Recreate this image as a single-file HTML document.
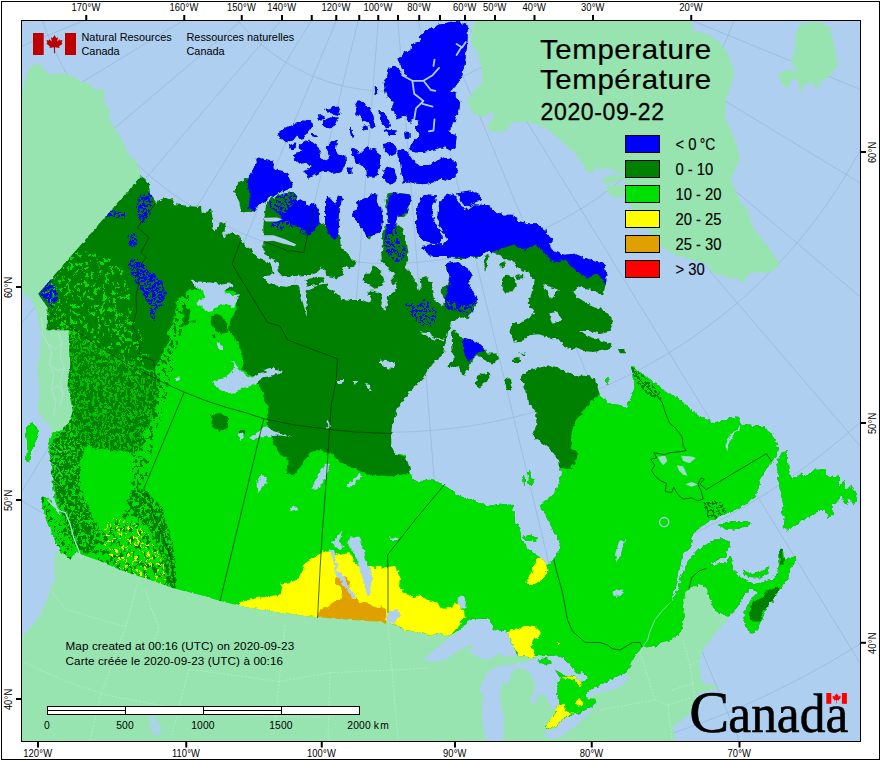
<!DOCTYPE html>
<html><head><meta charset="utf-8"><title>Temperature</title>
<style>
html,body{margin:0;padding:0;background:#fff;}
body{width:880px;height:760px;overflow:hidden;font-family:"Liberation Sans",sans-serif;}
svg{display:block;position:absolute;left:0;top:0;}
.tk{font-family:"Liberation Sans",sans-serif;font-size:10px;fill:#000;}
.lg{font-family:"Liberation Sans",sans-serif;font-size:17px;fill:#000;stroke:#000;stroke-width:0.15px}
.ti{font-family:"Liberation Sans",sans-serif;font-size:27px;fill:#000;letter-spacing:0.55px;stroke:#000;stroke-width:0.18px}
.dt{font-family:"Liberation Sans",sans-serif;font-size:23px;fill:#000;letter-spacing:0.65px;stroke:#000;stroke-width:0.3px}
.nr{font-family:"Liberation Sans",sans-serif;font-size:10.9px;fill:#000;}
.mc{font-family:"Liberation Sans",sans-serif;font-size:11.7px;fill:#000;letter-spacing:0.1px}
.sb{font-family:"Liberation Sans",sans-serif;font-size:10.3px;fill:#000;letter-spacing:0.15px}
.wm{font-family:"Liberation Serif",serif;font-size:61px;fill:#000;stroke:#000;stroke-width:0.6px}
</style></head><body>
<svg width="880" height="760" viewBox="0 0 880 760">
<rect x="0" y="0" width="880" height="760" fill="#fff"/>
<rect x="1.5" y="1.5" width="878" height="758" fill="none" stroke="#000" stroke-width="1"/>
<defs><clipPath id="fr"><rect x="22" y="21" width="838" height="720"/></clipPath>
<filter id="rough2" filterUnits="userSpaceOnUse" x="0" y="0" width="880" height="760"><feTurbulence type="fractalNoise" baseFrequency="0.3" numOctaves="2" seed="8" result="t"/><feDisplacementMap in="SourceGraphic" in2="t" scale="3.5" xChannelSelector="R" yChannelSelector="G"/></filter>
<filter id="rough" filterUnits="userSpaceOnUse" x="0" y="0" width="880" height="760"><feTurbulence type="fractalNoise" baseFrequency="0.22" numOctaves="2" seed="4" result="t"/><feDisplacementMap in="SourceGraphic" in2="t" scale="5" xChannelSelector="R" yChannelSelector="G"/></filter>
<filter id="nzG1" filterUnits="userSpaceOnUse" x="0" y="0" width="880" height="760" color-interpolation-filters="sRGB"><feTurbulence type="fractalNoise" baseFrequency="0.45 0.3" numOctaves="2" seed="3"/><feColorMatrix type="matrix" values="0 0 0 0 0 0 0 0 0 0.878 0 0 0 0 0 40 0 0 0 -21.4"/></filter>
<filter id="nzG2" filterUnits="userSpaceOnUse" x="0" y="0" width="880" height="760" color-interpolation-filters="sRGB"><feTurbulence type="fractalNoise" baseFrequency="0.34 0.24" numOctaves="2" seed="11"/><feColorMatrix type="matrix" values="0 0 0 0 0 0 0 0 0 0.878 0 0 0 0 0 40 0 0 0 -24.2"/></filter>
<filter id="nzD1" filterUnits="userSpaceOnUse" x="0" y="0" width="880" height="760" color-interpolation-filters="sRGB"><feTurbulence type="fractalNoise" baseFrequency="0.3 0.22" numOctaves="2" seed="5"/><feColorMatrix type="matrix" values="0 0 0 0 0 0 0 0 0 0.502 0 0 0 0 0 40 0 0 0 -22.6"/></filter>
<filter id="nzB1" filterUnits="userSpaceOnUse" x="0" y="0" width="880" height="760" color-interpolation-filters="sRGB"><feTurbulence type="fractalNoise" baseFrequency="0.4 0.4" numOctaves="2" seed="9"/><feColorMatrix type="matrix" values="0 0 0 0 0 0 0 0 0 0 0 0 0 0 1 40 0 0 0 -18.8"/></filter>
<filter id="nzY1" filterUnits="userSpaceOnUse" x="0" y="0" width="880" height="760" color-interpolation-filters="sRGB"><feTurbulence type="fractalNoise" baseFrequency="0.4 0.3" numOctaves="2" seed="21"/><feColorMatrix type="matrix" values="0 0 0 0 1 0 0 0 0 1 0 0 0 0 0 40 0 0 0 -24.6"/></filter>
<filter id="nzD4" filterUnits="userSpaceOnUse" x="0" y="0" width="880" height="760" color-interpolation-filters="sRGB"><feTurbulence type="fractalNoise" baseFrequency="0.45 0.3" numOctaves="2" seed="41"/><feColorMatrix type="matrix" values="0 0 0 0 0 0 0 0 0 0.502 0 0 0 0 0 40 0 0 0 -23"/></filter>
<filter id="nzD2" filterUnits="userSpaceOnUse" x="0" y="0" width="880" height="760" color-interpolation-filters="sRGB"><feTurbulence type="fractalNoise" baseFrequency="0.4 0.4" numOctaves="2" seed="17"/><feColorMatrix type="matrix" values="0 0 0 0 0 0 0 0 0 0.502 0 0 0 0 0 40 0 0 0 -18.2"/></filter>
<filter id="nzD3" filterUnits="userSpaceOnUse" x="0" y="0" width="880" height="760" color-interpolation-filters="sRGB"><feTurbulence type="fractalNoise" baseFrequency="0.4 0.4" numOctaves="2" seed="29"/><feColorMatrix type="matrix" values="0 0 0 0 0 0 0 0 0 0.502 0 0 0 0 0 40 0 0 0 -20.4"/></filter>
</defs>
<rect x="22" y="21" width="838" height="720" fill="#AECFF0"/>
<g clip-path="url(#fr)" shape-rendering="auto">
<path d="M375.4,-101.0 L-974.7,216.8 M376.1,-99.1 L-907.4,426.7 M377.0,-97.2 L-808.1,623.4 M378.2,-95.6 L-679.1,802.2 M379.6,-94.1 L-523.6,958.4 M381.3,-92.9 L-345.6,1088.4 M383.1,-92.0 L-149.3,1188.7 M385.1,-91.3 L60.2,1257.1 M387.1,-91.0 L277.9,1291.7 M389.1,-91.0 L498.3,1291.7 M391.1,-91.3 L716.0,1257.1 M393.1,-92.0 L925.5,1188.7 M394.9,-92.9 L1121.8,1088.4 M396.6,-94.1 L1299.8,958.4 M398.0,-95.6 L1455.3,802.2 M399.2,-97.2 L1584.3,623.4 M400.1,-99.1 L1683.6,426.7 M400.8,-101.0 L1750.9,216.8 M401.1,-103.0 L1784.3,-1.1 M-684.3,-109.6 L-684.3,-92.7 L-684.0,-75.8 L-683.4,-58.9 L-682.6,-42.0 L-681.4,-25.2 L-680.1,-8.3 L-678.4,8.5 L-676.5,25.3 L-674.4,42.0 L-671.9,58.8 L-669.2,75.5 L-666.3,92.1 L-663.0,108.7 L-659.6,125.2 L-655.8,141.7 L-651.8,158.1 L-647.6,174.5 L-643.0,190.8 L-638.3,207.0 L-633.2,223.1 L-628.0,239.2 L-622.4,255.2 L-616.6,271.0 L-610.6,286.8 L-604.3,302.5 L-597.8,318.1 L-591.0,333.6 L-584.0,349.0 L-576.7,364.2 L-569.2,379.4 L-561.5,394.4 L-553.5,409.3 L-545.3,424.1 L-536.9,438.7 L-528.2,453.2 L-519.3,467.6 L-510.2,481.8 L-500.9,495.9 L-491.3,509.9 L-481.5,523.6 L-471.5,537.3 L-461.3,550.7 L-450.9,564.0 L-440.2,577.2 L-429.4,590.1 L-418.4,602.9 L-407.1,615.6 L-395.7,628.0 L-384.0,640.3 L-372.2,652.3 L-360.2,664.2 L-348.0,675.9 L-335.6,687.4 L-323.1,698.7 L-310.3,709.9 L-297.4,720.8 L-284.3,731.5 L-271.1,742.0 L-257.7,752.2 L-244.1,762.3 L-230.4,772.2 L-216.5,781.8 L-202.4,791.2 L-188.3,800.4 L-173.9,809.4 L-159.5,818.1 L-144.9,826.6 L-130.1,834.9 L-115.3,843.0 L-100.3,850.8 L-85.2,858.4 L-69.9,865.7 L-54.6,872.8 L-39.2,879.7 L-23.6,886.3 L-7.9,892.6 L7.8,898.8 L23.7,904.6 L39.6,910.2 L55.6,915.6 L71.7,920.7 L87.9,925.6 L104.2,930.2 L120.5,934.5 L136.9,938.6 L153.4,942.4 L169.9,946.0 L186.5,949.3 L203.1,952.4 L219.8,955.2 L236.5,957.7 L253.2,959.9 L270.0,961.9 L286.8,963.7 L303.7,965.1 L320.5,966.3 L337.4,967.2 L354.3,967.9 L371.2,968.3 L388.1,968.4 L405.0,968.3 L421.9,967.9 L438.8,967.2 L455.7,966.3 L472.5,965.1 L489.4,963.7 L506.2,961.9 L523.0,959.9 L539.7,957.7 L556.4,955.2 L573.1,952.4 L589.7,949.3 L606.3,946.0 L622.8,942.4 L639.3,938.6 L655.7,934.5 L672.0,930.2 L688.3,925.6 L704.5,920.7 L720.6,915.6 L736.6,910.2 L752.5,904.6 L768.4,898.8 L784.1,892.6 L799.8,886.3 L815.4,879.7 L830.8,872.8 L846.1,865.7 L861.4,858.4 L876.5,850.8 L891.5,843.0 L906.3,834.9 L921.1,826.6 L935.7,818.1 L950.1,809.4 L964.5,800.4 L978.6,791.2 L992.7,781.8 L1006.6,772.2 L1020.3,762.3 L1033.9,752.2 L1047.3,742.0 L1060.5,731.5 L1073.6,720.8 L1086.5,709.9 L1099.3,698.7 L1111.8,687.4 L1124.2,675.9 L1136.4,664.2 L1148.4,652.3 L1160.2,640.3 L1171.9,628.0 L1183.3,615.6 L1194.6,602.9 L1205.6,590.1 L1216.4,577.2 L1227.1,564.0 L1237.5,550.7 L1247.7,537.3 L1257.7,523.6 L1267.5,509.9 L1277.1,495.9 L1286.4,481.8 L1295.5,467.6 L1304.4,453.2 L1313.1,438.7 L1321.5,424.1 L1329.7,409.3 L1337.7,394.4 L1345.4,379.4 L1352.9,364.2 L1360.2,349.0 L1367.2,333.6 L1374.0,318.1 L1380.5,302.5 L1386.8,286.8 L1392.8,271.0 L1398.6,255.2 L1404.2,239.2 L1409.4,223.1 L1414.5,207.0 L1419.2,190.8 L1423.8,174.5 L1428.0,158.1 L1432.0,141.7 L1435.8,125.2 L1439.2,108.7 L1442.5,92.1 L1445.4,75.5 L1448.1,58.8 L1450.6,42.0 L1452.7,25.3 L1454.6,8.5 L1456.3,-8.3 L1457.6,-25.2 L1458.8,-42.0 L1459.6,-58.9 L1460.2,-75.8 L1460.5,-92.7 L1460.5,-109.6 M-496.2,-108.6 L-496.2,-94.7 L-495.9,-80.8 L-495.4,-66.8 L-494.7,-52.9 L-493.8,-39.0 L-492.7,-25.1 L-491.3,-11.2 L-489.8,2.6 L-488.0,16.4 L-486.0,30.2 L-483.7,44.0 L-481.3,57.7 L-478.6,71.4 L-475.8,85.0 L-472.7,98.6 L-469.4,112.2 L-465.9,125.6 L-462.2,139.1 L-458.2,152.4 L-454.1,165.7 L-449.7,179.0 L-445.2,192.2 L-440.4,205.2 L-435.4,218.3 L-430.2,231.2 L-424.8,244.1 L-419.3,256.8 L-413.5,269.5 L-407.5,282.1 L-401.3,294.6 L-394.9,307.0 L-388.3,319.3 L-381.6,331.4 L-374.6,343.5 L-367.5,355.5 L-360.1,367.3 L-352.6,379.1 L-344.9,390.7 L-337.0,402.2 L-329.0,413.5 L-320.7,424.8 L-312.3,435.9 L-303.7,446.8 L-294.9,457.7 L-286.0,468.4 L-276.9,478.9 L-267.6,489.3 L-258.2,499.6 L-248.6,509.7 L-238.8,519.7 L-228.9,529.5 L-218.9,539.1 L-208.7,548.6 L-198.3,557.9 L-187.8,567.1 L-177.2,576.1 L-166.4,584.9 L-155.4,593.6 L-144.4,602.0 L-133.2,610.3 L-121.9,618.5 L-110.4,626.4 L-98.8,634.2 L-87.1,641.8 L-75.3,649.2 L-63.4,656.4 L-51.4,663.4 L-39.2,670.2 L-27.0,676.9 L-14.6,683.3 L-2.1,689.5 L10.4,695.6 L23.1,701.5 L35.8,707.1 L48.6,712.6 L61.5,717.8 L74.5,722.8 L87.6,727.7 L100.7,732.3 L114.0,736.7 L127.2,741.0 L140.6,745.0 L154.0,748.8 L167.5,752.3 L181.0,755.7 L194.6,758.9 L208.2,761.8 L221.9,764.5 L235.6,767.1 L249.3,769.4 L263.1,771.4 L276.9,773.3 L290.7,774.9 L304.6,776.4 L318.5,777.6 L332.4,778.6 L346.3,779.3 L360.2,779.9 L374.2,780.2 L388.1,780.3 L402.0,780.2 L416.0,779.9 L429.9,779.3 L443.8,778.6 L457.7,777.6 L471.6,776.4 L485.5,774.9 L499.3,773.3 L513.1,771.4 L526.9,769.4 L540.6,767.1 L554.3,764.5 L568.0,761.8 L581.6,758.9 L595.2,755.7 L608.7,752.3 L622.2,748.8 L635.6,745.0 L649.0,741.0 L662.2,736.7 L675.5,732.3 L688.6,727.7 L701.7,722.8 L714.7,717.8 L727.6,712.6 L740.4,707.1 L753.1,701.5 L765.8,695.6 L778.3,689.5 L790.8,683.3 L803.2,676.9 L815.4,670.2 L827.6,663.4 L839.6,656.4 L851.5,649.2 L863.3,641.8 L875.0,634.2 L886.6,626.4 L898.1,618.5 L909.4,610.3 L920.6,602.0 L931.6,593.6 L942.6,584.9 L953.4,576.1 L964.0,567.1 L974.5,557.9 L984.9,548.6 L995.1,539.1 L1005.1,529.5 L1015.0,519.7 L1024.8,509.7 L1034.4,499.6 L1043.8,489.3 L1053.1,478.9 L1062.2,468.4 L1071.1,457.7 L1079.9,446.8 L1088.5,435.9 L1096.9,424.8 L1105.2,413.5 L1113.2,402.2 L1121.1,390.7 L1128.8,379.1 L1136.3,367.3 L1143.7,355.5 L1150.8,343.5 L1157.8,331.4 L1164.5,319.3 L1171.1,307.0 L1177.5,294.6 L1183.7,282.1 L1189.7,269.5 L1195.5,256.8 L1201.0,244.1 L1206.4,231.2 L1211.6,218.3 L1216.6,205.2 L1221.4,192.2 L1225.9,179.0 L1230.3,165.7 L1234.4,152.4 L1238.4,139.1 L1242.1,125.6 L1245.6,112.2 L1248.9,98.6 L1252.0,85.0 L1254.8,71.4 L1257.5,57.7 L1259.9,44.0 L1262.2,30.2 L1264.2,16.4 L1266.0,2.6 L1267.5,-11.2 L1268.9,-25.1 L1270.0,-39.0 L1270.9,-52.9 L1271.6,-66.8 L1272.1,-80.8 L1272.4,-94.7 L1272.4,-108.6 M-318.9,-107.7 L-318.9,-96.6 L-318.7,-85.4 L-318.3,-74.3 L-317.7,-63.2 L-317.0,-52.0 L-316.1,-40.9 L-315.0,-29.8 L-313.8,-18.8 L-312.3,-7.7 L-310.7,3.3 L-309.0,14.3 L-307.0,25.3 L-304.9,36.2 L-302.6,47.1 L-300.1,58.0 L-297.5,68.8 L-294.7,79.6 L-291.7,90.3 L-288.6,101.0 L-285.2,111.7 L-281.8,122.3 L-278.1,132.8 L-274.3,143.2 L-270.3,153.7 L-266.2,164.0 L-261.9,174.3 L-257.4,184.5 L-252.8,194.6 L-248.0,204.7 L-243.0,214.7 L-237.9,224.6 L-232.7,234.4 L-227.3,244.1 L-221.7,253.8 L-216.0,263.4 L-210.1,272.8 L-204.1,282.2 L-198.0,291.5 L-191.7,300.7 L-185.2,309.8 L-178.6,318.8 L-171.9,327.6 L-165.0,336.4 L-158.0,345.1 L-150.9,353.6 L-143.6,362.1 L-136.2,370.4 L-128.6,378.6 L-120.9,386.7 L-113.2,394.6 L-105.2,402.5 L-97.2,410.2 L-89.0,417.8 L-80.7,425.2 L-72.3,432.5 L-63.8,439.7 L-55.2,446.8 L-46.5,453.7 L-37.6,460.5 L-28.7,467.1 L-19.6,473.6 L-10.5,480.0 L-1.2,486.2 L8.1,492.3 L17.6,498.2 L27.1,503.9 L36.7,509.5 L46.4,515.0 L56.2,520.3 L66.1,525.5 L76.1,530.5 L86.1,535.3 L96.2,540.0 L106.4,544.5 L116.7,548.9 L127.0,553.1 L137.4,557.1 L147.8,561.0 L158.3,564.7 L168.9,568.2 L179.5,571.6 L190.2,574.8 L200.9,577.8 L211.7,580.7 L222.5,583.4 L233.4,585.9 L244.3,588.2 L255.2,590.4 L266.1,592.4 L277.1,594.3 L288.1,595.9 L299.2,597.4 L310.3,598.7 L321.3,599.9 L332.4,600.8 L343.6,601.6 L354.7,602.2 L365.8,602.7 L377.0,602.9 L388.1,603.0 L399.2,602.9 L410.4,602.7 L421.5,602.2 L432.6,601.6 L443.8,600.8 L454.9,599.9 L465.9,598.7 L477.0,597.4 L488.1,595.9 L499.1,594.3 L510.1,592.4 L521.0,590.4 L531.9,588.2 L542.8,585.9 L553.7,583.4 L564.5,580.7 L575.3,577.8 L586.0,574.8 L596.7,571.6 L607.3,568.2 L617.9,564.7 L628.4,561.0 L638.8,557.1 L649.2,553.1 L659.5,548.9 L669.8,544.5 L680.0,540.0 L690.1,535.3 L700.1,530.5 L710.1,525.5 L720.0,520.3 L729.8,515.0 L739.5,509.5 L749.1,503.9 L758.6,498.2 L768.1,492.3 L777.4,486.2 L786.7,480.0 L795.8,473.6 L804.9,467.1 L813.8,460.5 L822.7,453.7 L831.4,446.8 L840.0,439.7 L848.5,432.5 L856.9,425.2 L865.2,417.8 L873.4,410.2 L881.4,402.5 L889.4,394.6 L897.1,386.7 L904.8,378.6 L912.4,370.4 L919.8,362.1 L927.1,353.6 L934.2,345.1 L941.2,336.4 L948.1,327.6 L954.8,318.8 L961.4,309.8 L967.9,300.7 L974.2,291.5 L980.3,282.2 L986.3,272.8 L992.2,263.4 L997.9,253.8 L1003.5,244.1 L1008.9,234.4 L1014.1,224.6 L1019.2,214.7 L1024.2,204.7 L1029.0,194.6 L1033.6,184.5 L1038.1,174.3 L1042.4,164.0 L1046.5,153.7 L1050.5,143.2 L1054.3,132.8 L1058.0,122.3 L1061.4,111.7 L1064.8,101.0 L1067.9,90.3 L1070.9,79.6 L1073.7,68.8 L1076.3,58.0 L1078.8,47.1 L1081.1,36.2 L1083.2,25.3 L1085.2,14.3 L1086.9,3.3 L1088.5,-7.7 L1090.0,-18.8 L1091.2,-29.8 L1092.3,-40.9 L1093.2,-52.0 L1093.9,-63.2 L1094.5,-74.3 L1094.9,-85.4 L1095.1,-96.6 L1095.1,-107.7 M-148.1,-106.8 L-148.1,-98.4 L-147.9,-89.9 L-147.6,-81.5 L-147.2,-73.0 L-146.6,-64.6 L-146.0,-56.2 L-145.1,-47.8 L-144.2,-39.4 L-143.1,-31.0 L-141.9,-22.6 L-140.5,-14.3 L-139.1,-6.0 L-137.4,2.3 L-135.7,10.6 L-133.8,18.9 L-131.8,27.1 L-129.7,35.2 L-127.4,43.4 L-125.1,51.5 L-122.5,59.6 L-119.9,67.6 L-117.1,75.6 L-114.2,83.5 L-111.2,91.4 L-108.1,99.2 L-104.8,107.0 L-101.4,114.8 L-97.9,122.5 L-94.3,130.1 L-90.5,137.7 L-86.7,145.2 L-82.7,152.6 L-78.6,160.0 L-74.4,167.4 L-70.0,174.6 L-65.6,181.8 L-61.0,188.9 L-56.4,195.9 L-51.6,202.9 L-46.7,209.8 L-41.7,216.6 L-36.6,223.4 L-31.4,230.0 L-26.0,236.6 L-20.6,243.1 L-15.1,249.5 L-9.5,255.8 L-3.8,262.0 L2.0,268.1 L8.0,274.2 L14.0,280.1 L20.1,285.9 L26.3,291.7 L32.5,297.4 L38.9,302.9 L45.4,308.4 L51.9,313.7 L58.5,319.0 L65.2,324.1 L72.0,329.1 L78.9,334.1 L85.8,338.9 L92.8,343.6 L99.9,348.2 L107.1,352.7 L114.3,357.0 L121.6,361.3 L129.0,365.4 L136.4,369.5 L143.9,373.4 L151.5,377.2 L159.1,380.8 L166.8,384.4 L174.5,387.8 L182.3,391.1 L190.1,394.3 L198.0,397.4 L205.9,400.3 L213.9,403.1 L221.9,405.8 L229.9,408.3 L238.0,410.8 L246.2,413.1 L254.3,415.2 L262.5,417.3 L270.7,419.2 L279.0,421.0 L287.3,422.6 L295.6,424.2 L303.9,425.6 L312.3,426.8 L320.7,427.9 L329.1,428.9 L337.5,429.8 L345.9,430.5 L354.3,431.1 L362.8,431.6 L371.2,431.9 L379.6,432.1 L388.1,432.2 L396.6,432.1 L405.0,431.9 L413.4,431.6 L421.9,431.1 L430.3,430.5 L438.7,429.8 L447.1,428.9 L455.5,427.9 L463.9,426.8 L472.3,425.6 L480.6,424.2 L488.9,422.6 L497.2,421.0 L505.5,419.2 L513.7,417.3 L521.9,415.2 L530.0,413.1 L538.2,410.8 L546.3,408.3 L554.3,405.8 L562.3,403.1 L570.3,400.3 L578.2,397.4 L586.1,394.3 L593.9,391.1 L601.7,387.8 L609.4,384.4 L617.1,380.8 L624.7,377.2 L632.3,373.4 L639.8,369.5 L647.2,365.4 L654.6,361.3 L661.9,357.0 L669.1,352.7 L676.3,348.2 L683.4,343.6 L690.4,338.9 L697.3,334.1 L704.2,329.1 L711.0,324.1 L717.7,319.0 L724.3,313.7 L730.8,308.4 L737.3,302.9 L743.7,297.4 L749.9,291.7 L756.1,285.9 L762.2,280.1 L768.2,274.2 L774.2,268.1 L780.0,262.0 L785.7,255.8 L791.3,249.5 L796.8,243.1 L802.2,236.6 L807.6,230.0 L812.8,223.4 L817.9,216.6 L822.9,209.8 L827.8,202.9 L832.6,195.9 L837.2,188.9 L841.8,181.8 L846.2,174.6 L850.6,167.4 L854.8,160.0 L858.9,152.6 L862.9,145.2 L866.7,137.7 L870.5,130.1 L874.1,122.5 L877.6,114.8 L881.0,107.0 L884.3,99.2 L887.4,91.4 L890.4,83.5 L893.3,75.6 L896.1,67.6 L898.7,59.6 L901.3,51.5 L903.6,43.4 L905.9,35.2 L908.0,27.1 L910.0,18.9 L911.9,10.6 L913.6,2.3 L915.3,-6.0 L916.7,-14.3 L918.1,-22.6 L919.3,-31.0 L920.4,-39.4 L921.3,-47.8 L922.2,-56.2 L922.8,-64.6 L923.4,-73.0 L923.8,-81.5 L924.1,-89.9 L924.3,-98.4 L924.3,-106.8 M20.6,-105.9 L20.7,-100.1 L20.8,-94.3 L21.0,-88.6 L21.2,-82.8 L21.6,-77.0 L22.1,-71.2 L22.7,-65.5 L23.3,-59.7 L24.1,-54.0 L24.9,-48.2 L25.8,-42.5 L26.8,-36.8 L27.9,-31.1 L29.1,-25.5 L30.4,-19.8 L31.8,-14.2 L33.2,-8.6 L34.8,-3.0 L36.4,2.6 L38.1,8.1 L40.0,13.6 L41.8,19.1 L43.8,24.5 L45.9,29.9 L48.1,35.3 L50.3,40.6 L52.6,45.9 L55.0,51.2 L57.5,56.4 L60.1,61.6 L62.7,66.8 L65.5,71.9 L68.3,76.9 L71.2,82.0 L74.1,86.9 L77.2,91.9 L80.3,96.7 L83.5,101.6 L86.8,106.3 L90.1,111.1 L93.6,115.7 L97.1,120.3 L100.6,124.9 L104.3,129.4 L108.0,133.8 L111.8,138.2 L115.6,142.6 L119.5,146.8 L123.5,151.0 L127.6,155.2 L131.7,159.2 L135.9,163.2 L140.1,167.2 L144.4,171.1 L148.8,174.9 L153.2,178.6 L157.7,182.3 L162.2,185.9 L166.8,189.4 L171.5,192.8 L176.2,196.2 L180.9,199.5 L185.8,202.7 L190.6,205.9 L195.5,209.0 L200.5,212.0 L205.5,214.9 L210.5,217.7 L215.6,220.5 L220.8,223.2 L225.9,225.8 L231.2,228.3 L236.4,230.7 L241.7,233.0 L247.0,235.3 L252.4,237.5 L257.8,239.6 L263.2,241.6 L268.7,243.5 L274.2,245.4 L279.7,247.1 L285.2,248.8 L290.8,250.4 L296.4,251.8 L302.0,253.2 L307.7,254.6 L313.3,255.8 L319.0,256.9 L324.7,258.0 L330.4,258.9 L336.2,259.8 L341.9,260.6 L347.6,261.2 L353.4,261.8 L359.2,262.3 L364.9,262.7 L370.7,263.1 L376.5,263.3 L382.3,263.4 L388.1,263.5 L393.9,263.4 L399.7,263.3 L405.5,263.1 L411.3,262.7 L417.0,262.3 L422.8,261.8 L428.6,261.2 L434.3,260.6 L440.0,259.8 L445.8,258.9 L451.5,258.0 L457.2,256.9 L462.9,255.8 L468.5,254.6 L474.2,253.2 L479.8,251.8 L485.4,250.4 L491.0,248.8 L496.5,247.1 L502.0,245.4 L507.5,243.5 L513.0,241.6 L518.4,239.6 L523.8,237.5 L529.2,235.3 L534.5,233.0 L539.8,230.7 L545.0,228.3 L550.3,225.8 L555.4,223.2 L560.6,220.5 L565.7,217.7 L570.7,214.9 L575.7,212.0 L580.7,209.0 L585.6,205.9 L590.4,202.7 L595.3,199.5 L600.0,196.2 L604.7,192.8 L609.4,189.4 L614.0,185.9 L618.5,182.3 L623.0,178.6 L627.4,174.9 L631.8,171.1 L636.1,167.2 L640.3,163.2 L644.5,159.2 L648.6,155.2 L652.7,151.0 L656.7,146.8 L660.6,142.6 L664.4,138.2 L668.2,133.8 L671.9,129.4 L675.6,124.9 L679.1,120.3 L682.6,115.7 L686.1,111.1 L689.4,106.3 L692.7,101.6 L695.9,96.7 L699.0,91.9 L702.1,86.9 L705.0,82.0 L707.9,76.9 L710.7,71.9 L713.5,66.8 L716.1,61.6 L718.7,56.4 L721.2,51.2 L723.6,45.9 L725.9,40.6 L728.1,35.3 L730.3,29.9 L732.4,24.5 L734.4,19.1 L736.2,13.6 L738.1,8.1 L739.8,2.6 L741.4,-3.0 L743.0,-8.6 L744.4,-14.2 L745.8,-19.8 L747.1,-25.5 L748.3,-31.1 L749.4,-36.8 L750.4,-42.5 L751.3,-48.2 L752.1,-54.0 L752.9,-59.7 L753.5,-65.5 L754.1,-71.2 L754.6,-77.0 L755.0,-82.8 L755.2,-88.6 L755.4,-94.3 L755.5,-100.1 L755.6,-105.9 M192.9,-105.0 L193.0,-101.9 L193.0,-98.9 L193.1,-95.8 L193.3,-92.7 L193.5,-89.7 L193.7,-86.6 L194.0,-83.5 L194.4,-80.5 L194.8,-77.4 L195.2,-74.4 L195.7,-71.3 L196.2,-68.3 L196.8,-65.3 L197.5,-62.3 L198.1,-59.3 L198.9,-56.3 L199.6,-53.3 L200.5,-50.4 L201.3,-47.4 L202.2,-44.5 L203.2,-41.6 L204.2,-38.6 L205.3,-35.8 L206.4,-32.9 L207.5,-30.0 L208.7,-27.2 L209.9,-24.4 L211.2,-21.6 L212.5,-18.8 L213.9,-16.0 L215.3,-13.3 L216.8,-10.6 L218.2,-7.9 L219.8,-5.2 L221.4,-2.6 L223.0,0.0 L224.6,2.6 L226.3,5.2 L228.1,7.7 L229.9,10.2 L231.7,12.7 L233.5,15.1 L235.4,17.6 L237.4,20.0 L239.3,22.3 L241.3,24.6 L243.4,26.9 L245.5,29.2 L247.6,31.4 L249.7,33.6 L251.9,35.8 L254.2,37.9 L256.4,40.0 L258.7,42.1 L261.0,44.1 L263.4,46.1 L265.7,48.0 L268.1,49.9 L270.6,51.8 L273.1,53.6 L275.6,55.4 L278.1,57.2 L280.6,58.9 L283.2,60.6 L285.8,62.2 L288.5,63.8 L291.1,65.3 L293.8,66.9 L296.5,68.3 L299.2,69.7 L302.0,71.1 L304.7,72.5 L307.5,73.8 L310.4,75.0 L313.2,76.2 L316.0,77.4 L318.9,78.5 L321.8,79.5 L324.7,80.6 L327.6,81.5 L330.5,82.5 L333.5,83.4 L336.4,84.2 L339.4,85.0 L342.4,85.7 L345.4,86.4 L348.4,87.1 L351.4,87.7 L354.4,88.2 L357.5,88.7 L360.5,89.2 L363.6,89.6 L366.6,90.0 L369.7,90.3 L372.7,90.5 L375.8,90.8 L378.9,90.9 L381.9,91.1 L385.0,91.1 L388.1,91.2 L391.2,91.1 L394.3,91.1 L397.3,90.9 L400.4,90.8 L403.5,90.5 L406.5,90.3 L409.6,90.0 L412.6,89.6 L415.7,89.2 L418.7,88.7 L421.8,88.2 L424.8,87.7 L427.8,87.1 L430.8,86.4 L433.8,85.7 L436.8,85.0 L439.8,84.2 L442.7,83.4 L445.7,82.5 L448.6,81.5 L451.5,80.6 L454.4,79.5 L457.3,78.5 L460.2,77.4 L463.0,76.2 L465.8,75.0 L468.7,73.8 L471.5,72.5 L474.2,71.1 L477.0,69.7 L479.7,68.3 L482.4,66.9 L485.1,65.3 L487.7,63.8 L490.4,62.2 L493.0,60.6 L495.6,58.9 L498.1,57.2 L500.6,55.4 L503.1,53.6 L505.6,51.8 L508.1,49.9 L510.5,48.0 L512.8,46.1 L515.2,44.1 L517.5,42.1 L519.8,40.0 L522.0,37.9 L524.3,35.8 L526.5,33.6 L528.6,31.4 L530.7,29.2 L532.8,26.9 L534.9,24.6 L536.9,22.3 L538.8,20.0 L540.8,17.6 L542.7,15.1 L544.5,12.7 L546.3,10.2 L548.1,7.7 L549.9,5.2 L551.6,2.6 L553.2,0.0 L554.8,-2.6 L556.4,-5.2 L558.0,-7.9 L559.4,-10.6 L560.9,-13.3 L562.3,-16.0 L563.7,-18.8 L565.0,-21.6 L566.3,-24.4 L567.5,-27.2 L568.7,-30.0 L569.8,-32.9 L570.9,-35.8 L572.0,-38.6 L573.0,-41.6 L574.0,-44.5 L574.9,-47.4 L575.7,-50.4 L576.6,-53.3 L577.3,-56.3 L578.1,-59.3 L578.7,-62.3 L579.4,-65.3 L580.0,-68.3 L580.5,-71.3 L581.0,-74.4 L581.4,-77.4 L581.8,-80.5 L582.2,-83.5 L582.5,-86.6 L582.7,-89.7 L582.9,-92.7 L583.1,-95.8 L583.2,-98.9 L583.2,-101.9 L583.3,-105.0" fill="none" stroke="#96B1D3" stroke-width="0.6"/>
<g filter="url(#rough2)">
<path d="M15,91 23,90 25,80 30,66 35,65 40,64 42.5,69 50,74.5 57,74 64,73 69,75 75,77.5 80,82 82.5,82.5 87.5,82.5 91,86 95,89 104,90 104.5,97.5 100,99 106,101 105,106 110,111 109,117.5 114,127.5 120,136 125,147.5 130,156 137.5,162.5 139.5,170 140.6,176.2 37.9,293.7 47.4,307.4 46.3,330.6 68.5,330.6 69.5,364.3 67.4,385.4 72.7,410.7 68.5,423.3 57.9,431.7 52,433 51.6,427.5 43.2,419 37.9,410.7 39,389.6 37.9,368.5 40,351.6 41,334.8 37.9,317.9 35.8,307.4 30.5,297.9 23,292.6 15,287Z" fill="#97E4B0" />
<path d="M478.75,14 472.5,30 471.25,42.5 477.5,52.5 481.25,67.5 482.5,82.5 473.75,90 467.5,102.5 472.5,112.5 482.5,117.5 492.5,111.25 493.75,117.5 487.5,125 491.25,132.5 505,131.25 512.5,122.5 525,121.25 540,125 550,131.25 560,140.2 566.8,145.9 573.6,151.6 578.2,157.3 582.7,164.1 586.1,170.9 590.7,173.75 595.2,169.8 596.4,165.2 598.6,167.5 599.8,172 602,168.6 605.5,167.5 610,169.8 614.5,170.9 621.4,173.2 626,176 619,174.9 611.1,175.5 605.5,176.6 602,180 603.2,182.8 607.7,183.4 613.4,181.7 619,180 626,180 626,185 621.4,185.7 614.5,184.5 608.9,185.7 605.5,188 606.6,190.2 608.9,193.6 612.3,195.9 616.8,198.2 621.4,197 626,194 628.2,202.7 632.7,209.5 640,218 648,230 655,240 662,246 675.6,255.6 705.1,263 712.5,272.5 730,279 734.5,277.7 744,282.5 750,272.5 770,272.5 780,265 775,257.5 765,242.5 752.5,227.5 747.5,210 741.9,204 735,190 730.9,178 740,160 735,140 725,117.5 726,100 734,75 731,60 722.5,45 710,35 692,30 692,14Z" fill="#97E4B0" />
<path d="M795,32.5 800,25 810,22 820,22.5 830,27.5 833,40 835,50 837.5,65 830,75 820,82.5 817.5,91 812.5,82.5 804,85 800,94 797.5,80 792.5,77.5 787.5,90 782,83 777.5,75 784,71 790,70 797.5,72.5 791,60 796,47.5Z" fill="#97E4B0" />
<path d="M55,553 54,582 50,591 46,602 40,615 32.5,625 25,634 15,640 15,748 675.7,748 673.6,730.6 672.6,727.6 678.7,722.5 686.9,716.4 693,711.3 691,710.3 695,698 701.1,691.9 709.3,690.9 717.5,687.8 715.4,685.8 705.2,683.8 700.1,679.7 701.1,673.6 699.1,667.5 700.1,657.3 703.2,649.1 711.3,638.9 717.5,630.8 723.6,624.7 729.7,616.5 722,610 705,585 689,586 680,600 640,600 600,600 500,600 400,590 300,590 200,570 100,540 70,545Z" fill="#97E4B0" />
</g>
<path d="M149,717 155,716 160,724 161,735 154,736 150,728Z" fill="#AECFF0" opacity="0.8"/>
<path d="M51.7,591.7 65.8,609.3 125.7,626.9" fill="none" stroke="#C6F0D4" stroke-width="0.6" stroke-dasharray="2 1.5" opacity="0.9"/>
<path d="M143.3,581.1 150.3,605.8 159.1,626.9 153.9,644.5" fill="none" stroke="#C6F0D4" stroke-width="0.6" stroke-dasharray="2 1.5" opacity="0.9"/>
<path d="M138,581.1 125.7,626.9 101,693.9" fill="none" stroke="#C6F0D4" stroke-width="0.6" stroke-dasharray="2 1.5" opacity="0.9"/>
<path d="M23.5,662 65.8,681.5 108,695.6 175,707.9" fill="none" stroke="#C6F0D4" stroke-width="0.6" stroke-dasharray="2 1.5" opacity="0.9"/>
<path d="M189,669.2 278.9,681.5" fill="none" stroke="#C6F0D4" stroke-width="0.6" stroke-dasharray="2 1.5" opacity="0.9"/>
<path d="M189,669.2 171.5,736" fill="none" stroke="#C6F0D4" stroke-width="0.6" stroke-dasharray="2 1.5" opacity="0.9"/>
<path d="M286,614.6 273.6,736" fill="none" stroke="#C6F0D4" stroke-width="0.6" stroke-dasharray="2 1.5" opacity="0.9"/>
<path d="M278.9,681.5 330,672.7" fill="none" stroke="#C6F0D4" stroke-width="0.6" stroke-dasharray="2 1.5" opacity="0.9"/>
<path d="M330,672.7 392,670" fill="none" stroke="#C6F0D4" stroke-width="0.6" stroke-dasharray="2 1.5" opacity="0.9"/>
<path d="M388,622 392,670 398,740" fill="none" stroke="#C6F0D4" stroke-width="0.6" stroke-dasharray="2 1.5" opacity="0.9"/>
<path d="M392,670 430,668" fill="none" stroke="#C6F0D4" stroke-width="0.6" stroke-dasharray="2 1.5" opacity="0.9"/>
<path d="M330,672.7 328,740" fill="none" stroke="#C6F0D4" stroke-width="0.6" stroke-dasharray="2 1.5" opacity="0.9"/>
<path d="M101,693.9 90,740" fill="none" stroke="#C6F0D4" stroke-width="0.6" stroke-dasharray="2 1.5" opacity="0.9"/>
<path d="M175,707.9 240,715 330,718" fill="none" stroke="#C6F0D4" stroke-width="0.6" stroke-dasharray="2 1.5" opacity="0.9"/>
<path d="M683,640 690,665 695,700" fill="none" stroke="#C6F0D4" stroke-width="0.6" stroke-dasharray="2 1.5" opacity="0.9"/>
<path d="M690,665 700,660" fill="none" stroke="#C6F0D4" stroke-width="0.6" stroke-dasharray="2 1.5" opacity="0.9"/>
<path d="M672,690 695,683" fill="none" stroke="#C6F0D4" stroke-width="0.6" stroke-dasharray="2 1.5" opacity="0.9"/>
<path d="M668,705 690,698" fill="none" stroke="#C6F0D4" stroke-width="0.6" stroke-dasharray="2 1.5" opacity="0.9"/>
<path d="M655,700 668,705 672,740" fill="none" stroke="#C6F0D4" stroke-width="0.6" stroke-dasharray="2 1.5" opacity="0.9"/>
<path d="M600,710 655,700" fill="none" stroke="#C6F0D4" stroke-width="0.6" stroke-dasharray="2 1.5" opacity="0.9"/>
<path d="M640,652 655,700" fill="none" stroke="#C6F0D4" stroke-width="0.6" stroke-dasharray="2 1.5" opacity="0.9"/>
<path d="M423.75,660 430,653.75 437.5,647.5 445,641.25 455,633.75 461.25,628.75 467.5,621.25 470,615 490,615 495,625 510,628 512,642 517,653 516.25,656 512.5,656.25 505,656.25 497.5,653.75 491.25,658.75 485,660 480,658 472.5,653.75 468.75,651.25 473.75,646.25 471.25,644.5 462.5,648.75 455,652.5 447.5,658.75 440,661.25 426.25,661.25Z" fill="#AECFF0" />
<path d="M487.5,672.5 495,667.5 502.5,665 511.25,665 515,668.75 511.25,673.75 508.75,682.5 506.25,686.25 503.75,680 501.25,685 500,695 501.25,705 503.75,717.5 503.75,730 502.5,741 486.25,741 483.75,730 482,717.5 482.5,705 483.75,695 480,692.5 478.75,695 481.25,685 485,677.5Z" fill="#AECFF0" />
<path d="M511.25,665 515,663.75 525,662.5 535,658.75 545,655 560,654 572,660 582,672 588,676 586,682 578,684 570,678 560,675 557.5,690 560,702.5 555,710 550,705 546.25,697.5 542.5,693.75 537.5,696.25 536.25,702.5 531.25,703.75 530,698.75 533.75,693.75 535,685 532.5,677.5 530,672.5 522.5,668.75 515,668.75Z" fill="#AECFF0" />
<path d="M543.75,735 547,729.5 551.25,730 557,724.5 563.75,718 571.25,714.5 580,713 590,707.5 596,703 597.5,705 590,712.5 580,722.5 570,730 560,737.5 550,738.75Z" fill="#AECFF0" />
<path d="M585,695 590,691.25 600,685 610,680 620,675 626.25,672.5 627.5,680 622.5,685 615,688.75 605,691.25 595,693.75 587.5,698.75Z" fill="#AECFF0" />
<clipPath id="ca"><path d="M527,472 530,470 531,478 534,480 532,486 528,484 529,478ZM522,478 524,476 525,483 523,485ZM537.5,660 545,658 551.25,660 551.25,663.75 545,664.5 540,663ZM522,537 530,535 537,538 536,541 526,541ZM140.6,176.2 149,183 150,194 157.5,204 158.4,200.4 165.8,197.6 173.1,199.5 174,204 188,206 200,207 200.8,213.3 209,211.4 210.9,206.8 212.7,218 211.8,225.2 215.5,230.8 221,223.4 225.6,221.6 224.7,230.8 221,233.5 224.7,236.3 231.2,231.7 239.4,235.4 242.2,242.7 250.5,249.2 257.9,258.4 267.1,261.2 271.7,267.6 273.5,273.1 264.3,275.9 262.5,278.7 272.6,285.1 287.3,286.9 290,286 297.4,283.4 299.2,287 300.5,294.5 306.8,316.5 306.6,303.7 305.5,290.8 317.6,285.2 326.8,283.4 329.6,288.9 337.9,294.5 341.6,299 350.8,300 363.7,300 369.2,302.7 371,296.3 367.3,295.4 369.2,290.8 374.7,290.8 382,293.5 381.1,303.7 384.8,311 387.6,303.7 386.7,298.1 396.8,288.9 397.7,281.6 393.1,285.2 390.4,279.7 395.9,274.2 389.4,269.6 382,261.3 381.1,253.9 383,245 382,235 385,225 392,222 400,226 405,235 407,250 407.9,257.6 405,266.8 411.5,274.2 417,283.4 418.9,290.8 421.7,289 420.7,277.9 426.3,276 431.8,283.4 433.6,292.6 435,300 442.4,305.5 445,300 440.5,290.8 447.9,283.4 449.7,276 446,270.5 446,263.1 457.1,261.3 468.1,268.7 471.8,276 468.1,283.4 473.7,292.6 477.3,298.1 475.5,307.3 468.1,314.7 469,319.3 462.6,317.5 455.2,318.4 451.6,322 447.9,333.1 446,340.5 442.4,355.2 433.1,362.6 427.6,370 422.5,380 412.5,387.5 405,397.5 397.5,410 392.5,422.5 391.25,433.75 391.25,445 395,453.75 405,455 408.75,465 412.5,480 420,482.5 427.5,478.75 440,483 447.5,487.5 460,496.25 472.5,500 487.5,506.25 500,503.75 512.5,505 515,520 520,530 521.25,540 530,550 540,557.5 548.75,565 553.75,558.75 558.75,552.5 560,542.5 553.75,532.5 550,522.5 546.25,515 540,507.5 542.5,502.5 552.5,495 558.75,485 561.25,472.5 557.5,460 552.5,451.25 545,445 537.5,440 532.5,436.25 536.25,425 536.25,412.5 527.5,400 526.25,390 521.25,380 520,375 530,370 550,365 557.5,367.5 572.5,375 590,376.25 595,380 600,395 610,403.75 620,405 626.3,408.4 631.6,396.8 634.7,387.4 632.6,376.8 631.6,366.3 635.8,368.4 643.2,374.7 651.6,381 660,386.3 665.3,391.6 672.6,394.7 681,401 687.4,406.3 691.6,410.5 700,415.8 706.3,419 712.6,423.2 719,421 725.3,421 731.6,416.8 737.9,417.9 740,423.2 746.3,425.3 754.7,426.3 763.2,426.3 769.5,431.6 775.8,441 777.9,448.4 776.8,454.7 773.7,461 767.4,467.4 763.2,473.7 760,482.1 757.9,490.5 754.7,496.8 750.8,500 741.5,507.4 730.5,512 719.4,516.6 706.6,523 697.3,529.5 691.8,536.8 690.9,546 684.5,553.4 680.8,562.6 678.9,573.7 677.1,582.9 674.3,592.1 671.6,600.4 668.8,604 670.6,603.1 675.2,595.8 678.9,586.6 680.8,577.3 684.5,568.1 691.8,557.1 699.2,548.8 708.4,543.3 715.8,539.6 725,539.6 729.6,543.3 728.7,549.7 725,556.2 717.6,559.9 710.2,564.5 719.4,563.5 726.8,563.5 730.5,555.2 732.3,560.8 731.4,571.8 736.9,571.8 741.5,579.2 748.9,582 752.6,582.9 754.4,584.7 763.6,582 772.9,579.2 777.5,572.7 779,565 778,555 780,547.5 783.75,550 785,560 792.5,556 797.5,555 795,562.5 790,570 788,578 780,588.4 772.9,599.4 767.3,606.8 761.8,619.7 757.2,630.8 750.8,632.6 745.2,627.1 743.4,616 747.1,606.8 752.6,597.6 758.1,592.1 748.9,588.4 747.1,592.1 741.5,597.6 737.8,606.8 730.5,614.2 728.7,615.1 727.6,616.5 721.5,614.5 715.4,610.4 711.3,602.2 707.3,590 704,586 699.2,584.7 689.1,588.4 686.9,590 684.8,594.1 682.8,606.3 683.8,618.5 680.8,631.8 672.6,638.9 660.4,644 648.2,647.1 642.5,647.5 640,650 635,655 626.25,672.5 620,675 610,680 600,685 590,690 585,695 587.5,698.75 595,698.75 596.25,702.5 590,707.5 580,713 571.25,714.5 563.75,718 557,724.5 551.25,730 547,729.5 546.25,725 550,720 555,713.75 558.25,706.25 560,702.5 557.5,695 557.5,687.5 558.75,682.5 560,677.5 555,670 560,672.5 563.75,675 570,675 575,677.5 580,682.5 585,680 586.25,675 581.25,671.25 580,674.5 575,672 570,664.5 563.75,658 552.5,655.5 540,656.25 530,657.5 522.5,656.25 516.25,653.75 515,648.75 511.25,642.5 507.5,631.25 495,630 492.5,625 487.5,618.75 470,618.75 467.5,621.25 461.25,628.75 457.5,631.25 447.5,636 438.75,633.75 430,636 420,632.5 405,630 395,623.75 382.5,622 370,621.25 345,619.5 320,617.5 295,615 270,611.25 245,607 220,601 200,595 175,588.75 150,580 120,570 100,561 82.5,555 75,550 68,540 62,520 55,500 52.5,480 51.25,462.5 47.5,447.5 50,437.5 52,433 57.9,431.7 68.5,423.3 72.7,410.7 67.4,385.4 69.5,364.3 68.5,330.6 46.3,330.6 47.4,307.4 37.9,293.7ZM41.25,497.5 50,500 57.5,512.5 65,525 72.5,540 75,552.5 70,560 60,550 52.5,535 46.25,520 42.5,507.5ZM26.25,427.5 31.25,422.5 40,430 35,442.5 31.25,450 30,462.5 26.25,460 27.5,445 26,432ZM743.4,569.1 748.9,573.7 754.4,573.7 763.6,570 769.2,566.3 768.3,573.7 760,577.3 750.8,577.3 745.2,574.6ZM717.6,524.9 730.5,521.2 747.1,521.2 750.8,523 745.2,526.7 732.3,529.5 723.1,527.6ZM777.5,460 782.5,451.25 786.25,450 787.5,457.5 788.75,470 792.5,480 800,473.75 807.5,476.25 815,468.75 825,468.75 826.25,475 835,477.5 838.75,475 838.75,487.5 843.75,480 846.25,490 851.25,485 857.5,497.5 853.75,505 848.75,497.5 846.25,505 840,495 837.5,502.5 832.5,505 832.5,515 827.5,518.75 826.25,510 820,510 810,516.25 802.5,520 792.5,527.5 787.5,531.25 783.75,527.5 785,517.5 781.25,515 783.75,505 780,492.5 778.75,480 777.5,470ZM277,133.3 283.4,128.7 292.6,124.1 301.8,120.4 311,121.3 312,125.9 307.3,132.4 303.7,137.9 299.1,138.8 297.2,134.2 292.6,139.7 287.1,143.4 283.4,139.7 278.8,137ZM288.9,145.2 295.4,143.4 297.2,146.2 291.7,149.9ZM292.6,155.4 300.9,151.7 299.1,144.3 307.3,139.7 312.9,142.5 316.6,145.2 320.2,152.6 321.2,159.1 325.8,160.9 329.4,158.1 326.7,147.1 333.1,140.6 336.8,140.6 335.9,150.8 338.7,156.3 345.1,155.4 346,161.8 341.4,172 333.1,173.8 328.5,171 322.1,171 316.6,173.8 309.2,178.4 302.7,171 311,167.3 306.4,162.7 300,163.7 293.5,158.1ZM317.5,115.8 322.1,114.9 323.9,118.5 320.2,120.4ZM323.9,109.3 332.2,107.5 338.7,106.6 340.5,112.1 338.7,114.9 330.4,113ZM323,120.4 330.4,117.6 337.7,117.6 335.9,122.2 333.1,127.8 325.8,128.7 323,125ZM311,134.2 316.6,134.2 316.6,137 311,136ZM349.7,126.8 351.5,127.8 354.3,136 351.5,137.9ZM354.3,102 361.7,100.1 366.3,105.7 370,107.5 373.6,117.6 375.5,126.8 371.8,128.7 367.2,121.3 362.6,120.4 358.9,115.8 355.2,113.9 357.1,108.4ZM362.6,126.8 367.2,125.9 368.1,129.6 363.5,130.5ZM378.3,111.2 382.9,111.2 388.4,119.5 391.1,125.9 386.5,128.7 381,121.3ZM347.9,167.3 351.5,168.3 351.5,173.8 346.9,173.8ZM351.5,148 355.2,147.1 358.9,154.5 362.6,150.8 366.3,147.1 371.8,148.9 377.3,149.9 380.1,160 379.2,171 375.5,177.5 367.2,177.5 366.3,169.2 361.7,165.5 357.1,163.7 352.5,154.5ZM257.6,157.2 273.3,160.9 275.1,169.2 283.4,171 288.9,176.6 292.6,187.6 281.6,192.2 272.4,196.8 261.3,203.3 253.9,211.5 241,212.5 239.2,200.5 233.7,191.3 239.2,182.1 250.3,174.7 253.9,167.3ZM457.5,20.9 467.6,25.5 467.6,38.4 466.7,49.5 464.8,64.2 462.1,75.2 458.4,82.6 453.8,87.2 451,90.9 456.6,93.7 456.6,99.2 460.2,101 459.3,110.2 455.6,117.6 452.9,126.8 448.3,130.5 451,134.2 456.6,135.1 455.6,147.1 451,150.8 443.7,147.1 436.3,148.9 425.2,151.7 416,152.6 408.7,150.8 409.6,145.2 416,139.7 419.7,136 414.2,126.8 418.8,125 417.9,120.4 412.4,119.4 409.6,122.2 405,115.8 397.6,119.4 392.1,108.4 393.9,101 387.5,97.3 384.7,90 383.8,82.6 387.5,75.2 388.4,69.7 393.9,65.1 397.6,67.9 402.2,75.2 406.8,77.1 402.2,67.9 397.6,59.6 404.1,52.2 410.5,50.4 411.4,43.9 418.8,42.1 421.6,32.9 430.8,29.2 440,24.6 451,21.8ZM373.7,87.2 377.4,87.2 378.3,93.7 374.6,93.7ZM384.7,129.6 396.7,130.5 395.8,135.1 387.5,135.1ZM404.1,132.3 409.6,133.3 409.6,138.8 405,138.8ZM382.9,142.9 390.3,142 396.7,148.4 395.8,153.9 389.3,154.9 383.8,149.3ZM397.6,150.3 403.1,149.3 408.7,153.9 413.3,161.3 419.7,165.9 428.9,165.9 436.3,160.4 443.7,157.6 452.9,159.5 455.6,164.1 456.6,171.4 456.6,177 447.3,179.7 441.8,178.8 432.6,182.5 423.4,184.3 414.2,183.4 408.7,181.6 403.1,182.5 401.3,172.4 400.4,163.1 397.6,155.8ZM383.8,169.6 388.4,166.8 393.9,168.7 396.7,176 395.8,181.6 390.3,183.4 385.7,181.6 382.9,176ZM387.5,194.5 397.6,192.6 411.4,194.5 410.5,201.8 407.8,211 405,216.6 397.6,215.6 394.9,225.8 389.3,227.6 388.4,218.4 386.6,209.2 385.7,200ZM420.6,197.2 428.9,194.5 437.2,195.4 433.5,203.7 431.7,212.9 435.4,223.9 440.9,233.1 443.7,238.7 438.1,243.3 430.8,242.3 421.6,239.6 417,233.1 416,222.1 417,209.2ZM266,203.9 271.6,198.4 282.6,193.8 293.7,192 297.4,196.6 295.5,201.2 301,199.3 308.4,205.8 312.1,203 315.8,203.9 318.5,210.4 319.5,222.4 325,226 325,200.3 328.7,196.6 335.1,203.9 337.9,196.6 343.4,197.5 341.6,203.9 338.8,209.5 338.8,220.5 339.7,235.2 340.6,244.5 343.4,250 350.8,257.3 355.4,261 354.4,266.6 349.8,268.4 347.1,266.6 342.5,267.5 341.6,275.8 336,278.5 328.7,275.8 324.1,272.1 321.3,266.6 317.6,272.1 308.4,274.8 297.4,275.8 288.1,276.7 278.9,273.9 278,262.9 273.4,259.2 266,255.5 263.3,250 263.3,242.6 263.3,226 265.1,212.2ZM351.7,211.3 358.1,209.5 357.2,202.1 363.7,198.4 372.9,193.8 377.5,194.7 376.5,202.1 381.2,207.6 383,216.8 382.1,227.9 378.4,233.4 372.9,235.2 370.1,240.8 366.4,237.1 363.7,229.7 359.1,224.2 354.4,218.7ZM363.7,277.6 369.2,272.1 372.9,265.6 376.5,266.6 382.1,273.9 383.9,280.4 382.1,286.8 374.7,288.7 369.2,285 363.7,281.3ZM305.6,280.4 315.8,276.7 323.1,277.6 324.1,281.3 315.8,285 307.5,286.8ZM439.1,203.7 443.7,196.3 452.9,193.5 461.1,205.3 465.3,210.5 473.7,204.2 488.4,205.3 492.6,210.5 503.2,214.7 513.7,214.7 517.9,221.1 528.4,223.2 536.8,223.2 545.3,229.5 546.3,234.7 553.7,238.9 549.5,244.2 551.6,250.5 564.2,254.7 574.7,253.7 587.4,258.9 597.9,261.1 604.2,263.2 606.3,273.7 606.3,282.1 603.2,294.2 596.8,293.2 588.4,288.9 580,286.8 572.6,291.1 577.9,297.4 584.2,301.6 590.5,304.7 598.9,307.9 605.3,312.1 611.6,318.4 612.6,324.7 609.5,331.1 598.9,333.2 588.4,331.1 580,331.1 590.5,337.4 601.1,340.5 611.6,343.7 610.5,348.9 601.1,351.1 592.6,352.1 584.2,351.1 577.9,347.9 571.6,350 563.2,345.8 558.9,339.5 548.4,337.4 537.9,334.2 528.4,335.3 523.2,340.5 513.7,341.6 509.5,333.2 511.6,323.7 521.1,322.6 529.5,317.4 534.7,312.1 527.4,303.7 531.6,293.2 533.7,280.5 525.3,270 524.2,271.6 517.9,267.4 511.6,261.1 503.2,258.9 498.9,254.7 492.6,252.6 486.3,251.6 477.9,258.9 469.5,256.8 465.8,258.9 456.6,258.9 447.3,257.1 440,257.1 432.6,257.1 425.2,251.5 421.6,246 430.8,244.2 443.7,244.2 447.3,240.5 443.7,233.1 440,225.8 437.2,216.6ZM456.8,192.6 469.5,190.5 478.9,193.7 482.1,200 475.8,202.1 469.5,206.3 464.2,205.3 460,200ZM502.1,277.9 507.4,274.7 513.7,276.8 515.8,286.3 511.6,292.6 505.3,292.6 501.1,286.3ZM500,263.2 505.3,261.1 506.3,265.3 501.1,269.5ZM515.8,275.8 524.2,274.7 524.2,277.9 516.8,278.9ZM483.2,265.3 485.3,254.7 488.4,255.8 487.4,263.2 485.3,271.6ZM452.7,330.4 457.3,332.2 461,336.8 464.7,337.8 472.1,339.6 480.4,344.2 485,348.8 486.8,353.4 496.9,353.4 497.9,358.9 493.3,363.5 486.8,361.7 482.2,357.1 477.6,355.2 473.9,357.1 471.2,362.6 468.4,370 464.7,374.6 461,373.7 459.2,367.2 453.7,366.3 449.1,368.1 448.1,364.5 453.7,359.9 452.7,351.6 451.8,340.5ZM476.7,377.3 482.2,373.7 488.7,372.7 489.6,377.3 485.9,382.9 479.4,387.5 475.8,384.7ZM505.2,379.2 508.9,378.3 511.7,382.9 510.8,391.2 507.1,389.3 505.2,383.8ZM512.6,358.9 518.1,357.1 520.9,359.9 518.1,363.5 513.5,361.7ZM519,353.4 524.6,353.4 525.5,355.2 520.9,355.2ZM605.3,377.4 608.4,377.4 608.4,383.7 605.3,382.6ZM617.9,348.9 623.2,348.9 625.3,353.2 620,353.2Z"/></clipPath>
<g filter="url(#rough)"><g clip-path="url(#ca)">
<rect x="0" y="0" width="880" height="760" fill="#008000"/>
<path d="M0,332 69,332 100,347 128,362 153.7,371 157.9,362.6 161,356.3 165.3,347.9 169.5,339.5 167.4,331 171.6,324.7 174.7,316.3 175.8,305.8 177.9,297.4 184.2,295.3 190.5,289 234.7,291 236.8,307.9 230.5,320.5 228.4,331 234.7,337.4 241,350 243.2,360.5 242.1,369 255.8,379.5 262.1,392.1 267.4,404.7 268.4,415.3 266.25,420 273.75,442.5 280,455 287.5,457.5 287.5,475 297.5,472.5 302.5,462.5 310,452.5 320,450 330,452.5 340,462.5 352.5,467.5 370,475 390,476.25 410,473.75 411.25,465 405,455 395,453.75 420,462 500,470 561,468 570,470 576,460 578.75,455 572.5,450 570,440 572.5,430 576,420 582.5,412.5 587.5,405 595,397.5 598.75,395 605,375 625,362 640,355 700,380 880,380 880,760 0,760Z" fill="#00E000" />
<clipPath id="cm1"><path d="M47,310 60,318 75,330 100,347 128,362 140,368 156,373 160,380 158,395 154,410 150,425 143,432 141,445 138,450 130,454 121,450 115,452 104,448 96,450 88,444 83,450 80,465 80,485 85,500 92,515 97,525 100,537 97,545 90,552 84,554 78,548 70,535 62,515 56,495 52,475 50,455 52,440 58,432 68,423 72,410 67,385 69,365 69,331ZM129.5,491.6 137.9,487.4 146.3,491.6 154.7,500 163.2,508.4 165.3,521 171.6,537.9 175.8,554.7 176,592 168,590 165.3,567.4 158.9,550.5 154.7,537.9 146.3,525.3 137.9,518.9 129.5,508.4 127.4,500Z"/></clipPath>
<g clip-path="url(#cm1)"><rect x="0" y="0" width="880" height="760" fill="#008000"/><rect x="0" y="0" width="880" height="760" filter="url(#nzG1)"/></g>
<path d="M69,331 100,347 128,362 156,373 160,380 158,395 154,410 150,425 143,432 141,445 130,452 115,450 100,446 88,443 80,440 72,425 72,410 67,385 69,365Z" fill="#008000" opacity="0.3"/>
<clipPath id="cm2"><path d="M62.5,255 95,250 120,265 130,295 135,320 150,360 140,375 47.5,325 42.5,295Z"/></clipPath>
<g clip-path="url(#cm2)"><rect x="0" y="0" width="880" height="760" filter="url(#nzG2)"/></g>
<clipPath id="cm3"><path d="M130,454 138,450 141,445 143,432 150,425 154,410 158,395 160,380 168,385 166,400 160,420 152,440 150,460 146,480 137.9,487.4 129.5,491.6 132,470ZM160,380 156,373 157.9,362.6 165.3,347.9 169.5,339.5 171.6,324.7 175.8,305.8 184,295 190,292 186,310 182,330 176,350 172,370 168,385ZM100,537 97,525 105,530 115,522 125,512 128,500 137.9,518.9 146.3,525.3 154.7,537.9 158.9,550.5 165.3,567.4 168,590 150,582 120,571 100,561 90,552Z"/></clipPath>
<g clip-path="url(#cm3)"><rect x="0" y="0" width="880" height="760" filter="url(#nzD1)"/></g>
<clipPath id="cm4"><path d="M41.1,497.9 47.4,496.8 51.6,504.2 55.8,512.6 62.1,518.9 68.4,529.5 72.6,542.1 74.7,554.7 70.5,560 62.1,554.7 56.8,544.2 53.7,533.7 49.5,523.2 45.3,512.6 42.1,504.2Z"/></clipPath>
<g clip-path="url(#cm4)"><rect x="0" y="0" width="880" height="760" filter="url(#nzD4)"/></g>
<path d="M211,415 220,413 228,417 228,428 220,431 212,427Z" fill="#008000" />
<path d="M240,430 245,430 245,434 240,434Z" fill="#008000" />
<path d="M761.8,597.6 767.3,590.2 778.4,586.6 781,592 772.9,601.3 767.3,606.8 761.8,612.3 760,621.5 752.6,621.5 748,614.2 752.6,603.1Z" fill="#008000" />
<path d="M779,548 783,548 784,562 780,566Z" fill="#008000" />
<path d="M183.2,307.9 189.5,307.9 189.5,322.6 184.2,326.8 183.2,318.4Z" fill="#008000" />
<path d="M211.6,316.3 220,314.2 226.3,322.6 228.4,333.2 220,335.3 213.7,328.9 210.5,322.6Z" fill="#008000" />
<path d="M211.6,335.3 215.8,334.2 216.8,337.4 212.6,337.4Z" fill="#008000" />
<path d="M191.6,319.5 195.8,319.5 195.8,322.6 191.6,322.6Z" fill="#008000" />
<path d="M225,20 495,20 495,190 470,190 440,189 400,188 350,188 300,186 286,182 286,146 225,146Z" fill="#0000FF" />
<path d="M257.6,157.2 273.3,160.9 275.1,169.2 283.4,171 288.9,176.6 292.6,187.6 281.6,192.2 272.4,196.8 261.3,203.3 253.9,211.5 248.4,207.9 250.3,193.1 246.6,185.8 248.4,176.6 253.9,167.3Z" fill="#0000FF" />
<path d="M268.8,202.1 282.6,193.8 293.7,192 297.4,196.6 301,199.3 308.4,205.8 312.1,203 315.8,203.9 318.5,210.4 319.5,222.4 310.2,235.2 304.7,235.2 297.4,227.9 291.8,226 282.6,229.7 273.4,229.7 269.7,226 275.3,221.4 282.6,216.8 277.1,213.1 271.6,209.5Z" fill="#0000FF" />
<path d="M325,200.3 328.7,196.6 335.1,203.9 337.9,196.6 343.4,197.5 341.6,203.9 338.8,209.5 338.8,220.5 339.7,235.2 334.2,238.9 328.7,233.4 325,226Z" fill="#0000FF" />
<path d="M351.7,211.3 358.1,209.5 357.2,202.1 363.7,198.4 372.9,193.8 377.5,194.7 376.5,202.1 381.2,207.6 383,216.8 382.1,227.9 378.4,233.4 372.9,235.2 366.4,237.1 363.7,229.7 359.1,224.2 354.4,218.7Z" fill="#0000FF" />
<path d="M387.6,196.6 395,192.9 411.5,194.7 409.7,205.8 406,213.1 398.6,215.9 395,227.9 401.4,240.8 406,253.7 402.3,261 395,261 387.6,253.7 383.9,242.6 387.6,216.8Z" fill="#0000FF" />
<path d="M403.7,303.7 411,301.8 416.6,307.3 423.9,300 429.5,301.8 435,311 436.8,318.4 433.1,325.8 423.9,325.8 416.6,322.1 411,312.9Z" fill="#0000FF" />
<path d="M446,263.1 457.1,261.3 468.1,268.7 471.8,276 468.1,283.4 473.7,292.6 477.3,298.1 475.5,307.3 468.1,314.7 455.2,311 447.9,309.2 445.1,303.7 446,292.6 449.7,283.4 447.9,274.2Z" fill="#0000FF" />
<path d="M462.9,337.8 472.1,339.6 480.4,344.2 485,348.8 483.1,352.5 475.8,353.4 472.1,358.9 466.6,360.8 463.8,351.6 462.9,344.2Z" fill="#0000FF" />
<path d="M420.6,197.2 428.9,194.5 437.2,195.4 433.5,203.7 431.7,212.9 435.4,223.9 440.9,233.1 443.7,238.7 438.1,243.3 430.8,240.5 423.4,237.7 417,233.1 416,222.1 417,209.2Z" fill="#0000FF" />
<path d="M416,190 620,190 620,300 605.7,285 598,274 587,277.7 576,270.4 565,259.3 554,263 546.8,255.6 535.7,244.6 524.7,250 513.6,244.6 502.6,248.3 484,255.6 470,258 440,257.5 425,256 417,245Z" fill="#0000FF" />
<path d="M240,602.5 247.5,600 260,597.5 280,595 282.5,587.5 280,583.75 287.5,582.5 297.5,580 302.5,570 307.5,560 320,555 321,550 330,552.5 340,555 350,552.5 355,562.5 360,567.5 367.5,566 382.5,567.5 395,566 397.5,570 400,577.5 398.75,587.5 405,592.5 412.5,597.5 420,595 427.5,600 437.5,602.5 440,607.5 445,608.75 451.25,607.5 455,602.5 458.75,603.75 460,610 465,611.25 466.25,617.5 461.25,620 460,625 455,630 450,636.25 440,640 380,628 240,612Z" fill="#FFFF00" />
<path d="M507.5,632.5 511.25,630 520,628.75 525,625 535,626.25 540,631.25 538.75,637.5 532.5,640 531.25,647.5 535,652.5 533.75,657.5 520,656.25 515,650 511.25,642.5Z" fill="#FFFF00" />
<path d="M526.25,582.5 530,575 532.5,570 537,560 541,557 547.5,563 547.5,570 545,575 540,581.25 533.75,585 527.5,585Z" fill="#FFFF00" />
<path d="M561.25,677.5 570,676.25 576.25,677.5 581.25,681.25 581.25,686.25 577.5,683.75 573.75,680 567.5,679.5Z" fill="#FFFF00" />
<path d="M546.25,725 548.75,720 555,713.75 558.75,705 563.75,703.75 565,711.25 572.5,712.5 580,711.25 570,713.75 562.5,718.75 556.25,725 550,731Z" fill="#FFFF00" />
<path d="M557.5,642.5 560,642.5 560,645 557.5,645Z" fill="#FFFF00" />
<circle cx="579.5" cy="703" r="3.6" fill="#FFFF00"/>
<path d="M317.5,618.5 318.75,610 327.5,607.5 332.5,602.5 340,600 342.5,590 337.5,585 333.75,580 337.5,577.5 345,576.25 350,581.25 348.75,590 352.5,597.5 360,601.25 367.5,602.5 375,607.5 382.5,606.25 386.25,610 386.25,622 380,622Z" fill="#E0A000" />
<clipPath id="cb1"><path d="M140,195 147.5,190 152.5,197.5 150,212.5 145,222.5 140,225 138.8,215 136.2,207.5ZM127.5,236.2 135,232.5 137.5,240 135,247.5 128.8,246.2ZM128.8,260 137.5,258.8 145,266.2 152.5,273.8 162.5,281.2 166.2,293.8 162.5,305 153.8,310 147.5,302.5 141.2,291.2 135,281.2 130,271.2ZM38.8,293.8 50,280 55,285 57.5,297.5 52.5,307.5 46.2,301.2ZM107.5,210 125,211.2 125,218.8 107.5,216.2ZM150,307.5 156.2,312.5 155,321.2 150,316.2Z"/></clipPath>
<g clip-path="url(#cb1)"><rect x="0" y="0" width="880" height="760" filter="url(#nzB1)"/></g>
<clipPath id="cy1"><path d="M104,525 112,512 122,520 132,522 145,530 156,545 164,565 168,586 150,580 125,572 110,560 104,545Z"/></clipPath>
<g clip-path="url(#cy1)"><rect x="0" y="0" width="880" height="760" filter="url(#nzY1)"/></g>
<clipPath id="cb2"><path d="M403.7,303.7 411,301.8 416.6,307.3 423.9,300 429.5,301.8 435,311 436.8,318.4 433.1,325.8 423.9,325.8 416.6,322.1 411,312.9ZM445.1,303.7 455.2,311 468.1,314.7 475.5,307.3 477.3,298.1 473.7,303.7 460.8,305.5 449.7,300ZM268.8,202.1 282.6,193.8 293.7,192 297.4,196.6 291.8,205.8 284.5,213.1 277.1,211.3 271.6,207.6ZM269.7,226 278.9,222.4 288.1,220.5 293.7,226 302.9,227.9 306.6,235.2 297.4,229.7 288.1,229.7 278.9,231.6 271.6,229.7ZM387.6,235.2 395,227.9 401.4,240.8 406,253.7 402.3,261 395,261 387.6,253.7 383.9,242.6ZM403.9,301.8 438.9,301.8 438.9,327.6 403.9,327.6Z"/></clipPath>
<g clip-path="url(#cb2)"><rect x="0" y="0" width="880" height="760" filter="url(#nzD2)"/></g>
</g></g>
<path d="M140.6,176.2 37.9,293.7 47.4,307.4 46.3,330.6 68.5,330.6 69.5,364.3 67.4,385.4 72.7,410.7 68.5,423.3 57.9,431.7 54,427 63.5,419 67,410.7 62,385.4 64,364.3 63.5,336 41,336 42,309 33,295 136.1,172.3Z" fill="#97E4B0" />
<path d="M82.5,555 100,561 120,570 150,580 175,588.75 200,595 220,601 245,607 270,611.25 295,615 320,617.5 345,619.5 370,621.25 382.5,622 382.5,632 345,630 295,625 245,617 200,605 150,590 100,571 78,560Z" fill="#97E4B0" />
<g filter="url(#rough)">
<path d="M191.6,280.5 198.9,281.6 209.5,282.6 220,283.7 228.4,282.6 233.7,285.8 226.3,288.9 224.2,292.1 231.6,295.3 240,294.2 236.8,300.5 233.7,307.9 226.3,303.7 220,305.8 211.6,310 205.3,312.1 203.2,307.9 195.8,303.7 198.9,299.5 205.3,297.4 203.2,291.1 194.7,286.8Z" fill="#AECFF0" />
<path d="M211.6,381.6 217.9,379.5 226.3,377.4 232.6,371.1 234.7,364.7 230.5,360.5 234.7,362.6 238.9,368.9 245.3,375.3 251.6,377.4 260,373.2 268.4,371.1 276.8,371.1 280,373.2 272.6,375.3 264.2,377.4 257.9,381.6 251.6,385.8 243.2,387.9 236.8,392.1 228.4,393.2 220,390 214.7,385.8Z" fill="#AECFF0" />
<path d="M215.4,342.6 220,341.6 223.2,350 220,350Z" fill="#AECFF0" />
<path d="M175.8,378.4 178.9,376.3 178.9,379.5 175.8,381.6Z" fill="#AECFF0" />
<path d="M248.75,438.75 257.5,432.5 266.25,426.25 273.75,431.25 282.5,433.75 291.25,437 280,435.5 270,436.25 260,436.25 252.5,440Z" fill="#AECFF0" />
<path d="M238.75,433.75 243,432.5 243.75,438.75 240,441Z" fill="#AECFF0" />
<path d="M311.25,488.75 316.25,480 321.25,470 325,463.75 330,463.75 328.75,471.25 325,477.5 321.25,485 316.25,488.75Z" fill="#AECFF0" />
<path d="M326.5,420 329,419 330,428 327.5,429Z" fill="#AECFF0" />
<path d="M256.25,485 261.25,475 266.25,476.25 266.25,482.5 261.25,490 258.75,493.75Z" fill="#AECFF0" />
<path d="M290,508 297,506 298,510 291,512Z" fill="#AECFF0" />
<path d="M346.25,486.25 352.5,480 358.75,473.75 361.25,476.25 356.25,482.5 350,487.5Z" fill="#AECFF0" />
<path d="M350,537.5 357.5,536.25 362.5,545 365,555 367.5,565 370,570 372.5,577.5 370,587.5 371.25,595 367.5,596.25 365,587.5 362.5,577.5 360,570 357,560 353,550 348,545Z" fill="#AECFF0" />
<path d="M330,542.5 335,540 342.5,530 338.75,542.5 345,547.5 340,550 335,546.25Z" fill="#AECFF0" />
<path d="M335,570 340,572.5 345,577.5 347.5,585 350,590 355,595 356.25,598.75 351.25,596.25 347.5,591.25 343.75,585 340,580 336.25,575Z" fill="#AECFF0" />
<path d="M330,550 333,550 338,570 335.5,570Z" fill="#AECFF0" />
<path d="M387.5,612.5 395,608.75 400,613.75 398.75,618.75 395,622.5 387.5,622.5Z" fill="#AECFF0" />
<path d="M457.5,598.75 462.5,596.25 466.25,600 465,608.75 458.75,607.5Z" fill="#AECFF0" />
<path d="M612.5,592.5 617.5,588.75 625,591.25 620,595 613.75,596.25Z" fill="#AECFF0" />
<path d="M615,555 618.75,542.5 625,540 621.25,552.5 617.5,562.5Z" fill="#AECFF0" />
<path d="M725.3,446.3 727.4,440 731.6,434.7 736.8,428.4 741,424.2 737.9,430.5 732.6,436.8 728.4,444.2 727.4,450.5Z" fill="#AECFF0" />
<path d="M543.2,284.7 550.5,286.8 558.9,290 554.7,294.2 550.5,299.5 547.4,293.2Z" fill="#AECFF0" />
<path d="M549.5,313.2 556.8,312.1 562.1,319.5 556.8,322.6 552.6,323.7 550.5,318.4Z" fill="#AECFF0" />
<path d="M336,380 343,380 342,385 339,384Z" fill="#AECFF0" />
<path d="M352.5,381 357.5,381 356,385Z" fill="#AECFF0" />
<path d="M364,384 370,385 371,391 366,387Z" fill="#AECFF0" />
<path d="M380,360.5 394.7,362 394.7,365 380,364Z" fill="#AECFF0" />
<path d="M380,363 387,362 395,364.5 394,368 385,367Z" fill="#AECFF0" />
<path d="M262.5,369 272,368 282.5,371 281,375 270,373Z" fill="#AECFF0" />
<path d="M390,537.5 398.75,537.5 398.75,540 390,540Z" fill="#AECFF0" />
<path d="M583.5,676 587,676 587.5,680 584,680Z" fill="#AECFF0" />
<path d="M418.7,332.2 427.9,333.1 435.2,337.8 444.5,338.7 443.5,340.5 435.2,339.6 427,335.9Z" fill="#AECFF0" />
</g>
<path d="M262.4,217.8 277.1,217.4 282.6,219.2 277.1,221.4 266,221.4Z" fill="#AECFF0" />
<path d="M260.5,235.2 273.4,235.2 284.5,238.9 296.4,244.5 294.6,246.3 282.6,243.5 273.4,240.8 262.4,241.7Z" fill="#AECFF0" />
<circle cx="664.2" cy="522.1" r="4.6" fill="none" stroke="#AECFF0" stroke-width="1.3"/>
<path d="M156,202.5 137.5,227.5 149,237.5 141,252.5 146,257.5 136.8,270 138.9,282.6 135.8,297.4 136.8,310 132.6,325.8 135.8,333.2 140,345.8 138.9,356.3 153.7,360.5 154.7,375" fill="none" stroke="#003000" stroke-width="0.7" />
<path d="M46.25,310 75,330 100,347.5 125,362.5 142,371.5 163.2,382.6 184.2,392.1 205.3,400.5 226.3,407.4 245,412.5 263.75,418.75 295,425 327.5,429.25 355,432 391,433.5" fill="none" stroke="#003000" stroke-width="0.7" />
<path d="M184.2,392.1 143.75,488.75 150,500 152.5,512.5 157.5,525 162.5,535 166.25,545 170,555 172.5,567.5 173.75,580 175,588" fill="none" stroke="#003000" stroke-width="0.7" />
<path d="M263.75,418.75 227.5,570 220,601" fill="none" stroke="#003000" stroke-width="0.7" />
<path d="M329.5,429.25 326.25,480 322.5,530 320,570 317.5,618" fill="none" stroke="#003000" stroke-width="0.7" />
<path d="M445,484 440,490 415,520 387.5,555 388,570 388,612.5" fill="none" stroke="#003000" stroke-width="0.7" />
<path d="M240.4,241.8 232,264 267.5,322.5 280,326 287.5,340 337.5,358.75 336.25,380 331.25,405 329.5,429.25" fill="none" stroke="#003000" stroke-width="0.7" />
<path d="M263.75,241.25 286.25,250 287.5,252 289,250.5 303.75,252.5 313.75,208" fill="none" stroke="#003000" stroke-width="0.7" />
<path d="M553.75,558.75 556.25,570 562.5,592.5 567.5,620 572.5,631.25 585,642.5 600,642.5 607.5,645 612.5,648.75 620,650 632.5,642.5 640,642.5 642.5,647.5" fill="none" stroke="#003000" stroke-width="0.7" />
<path d="M631.6,366.3 634,372 640,380 646,386 652,392 658,397 662.1,402.1 665.3,412.6 669.5,423.2 675.8,428.4 682.1,436.8 683.2,446.3 686.3,450.5 681,451.6 670.5,452.6 664.2,454.7 653.7,452.6 656.8,457.9 650.5,459 654.7,465.3 651.6,470.5 654.7,475.8 661,481 666.3,483.2 665.3,491.6 671.6,492.6 673.7,487.4 677.9,494.7 683.2,499 691.6,497.9 697.9,501 703.2,499 701,490.5 697.9,484.2 701,477.9 704.2,479 700,484.2 706.3,489.5 766.3,453.7 771.6,461" fill="none" stroke="#003000" stroke-width="0.7" />
<path d="M689,588.4 691.8,577.3 699.2,570.9 706.6,568.1" fill="none" stroke="#003000" stroke-width="0.7" />
<path d="M402.2,75.2 412.4,80.8 423.4,80.8 432.6,75.2 439.1,67.9" fill="none" stroke="#AECFF0" stroke-width="1.8" stroke-linecap="round" stroke-linejoin="round"/>
<path d="M412.4,80.8 414.2,93.7 423.4,101 416,108.4 414.2,119.4" fill="none" stroke="#AECFF0" stroke-width="1.8" stroke-linecap="round" stroke-linejoin="round"/>
<path d="M424.3,81.7 430.8,90 435.4,90.9" fill="none" stroke="#AECFF0" stroke-width="1.8" stroke-linecap="round" stroke-linejoin="round"/>
<path d="M422.5,103.8 432.6,106.6" fill="none" stroke="#AECFF0" stroke-width="1.8" stroke-linecap="round" stroke-linejoin="round"/>
<path d="M434.5,119.4 433.5,130.5 428.9,131.4" fill="none" stroke="#AECFF0" stroke-width="1.8" stroke-linecap="round" stroke-linejoin="round"/>
<path d="M456.6,43.9 462.1,47.6 465.8,42.1" fill="none" stroke="#AECFF0" stroke-width="1.8" stroke-linecap="round" stroke-linejoin="round"/>
<path d="M456.6,55 461.2,47.6" fill="none" stroke="#AECFF0" stroke-width="1.8" stroke-linecap="round" stroke-linejoin="round"/>
<path d="M434.5,59.6 433.5,66" fill="none" stroke="#AECFF0" stroke-width="1.8" stroke-linecap="round" stroke-linejoin="round"/>
<path d="M657.9,456.8 665.3,455.8 667.4,461.1 663.2,465.3 660,461.1Z" fill="#B9DCEF" opacity="0.85"/>
<path d="M681.1,455.8 691.6,456.4 695.8,457.9 689.5,463.2 683.2,461.1Z" fill="#B9DCEF" opacity="0.85"/>
<path d="M676.8,465.3 683.2,466.3 687.4,475.8 683.2,474.7 678.9,470.5Z" fill="#B9DCEF" opacity="0.85"/>
<path d="M685.3,484.2 691.6,482.1 697.9,484.6 691.6,486.7Z" fill="#B9DCEF" opacity="0.85"/>
<path d="M43.2,334.8 47.4,343.2 51.6,351.7 49.5,364.3 53.7,374.8 51.6,389.6 55.8,402.2 53.7,414.9" fill="none" stroke="#BCE0DC" stroke-width="1" stroke-linecap="round" stroke-linejoin="round" opacity="0.8"/>
<path d="M57.9,332.7 62.1,343.2 60,355.9 64.3,368.5 60,381.2 63.2,393.8 60,406.4" fill="none" stroke="#BCE0DC" stroke-width="1" stroke-linecap="round" stroke-linejoin="round" opacity="0.8"/>
<path d="M47.4,343.2 55.8,349.5 62.1,343.2" fill="none" stroke="#BCE0DC" stroke-width="1" stroke-linecap="round" stroke-linejoin="round" opacity="0.8"/>
<path d="M49.5,364.3 57.9,370.6 64.3,368.5" fill="none" stroke="#BCE0DC" stroke-width="1" stroke-linecap="round" stroke-linejoin="round" opacity="0.8"/>
<path d="M51.6,389.6 57.9,385.4 63.2,393.8" fill="none" stroke="#BCE0DC" stroke-width="1" stroke-linecap="round" stroke-linejoin="round" opacity="0.8"/>
<path d="M41.1,317.9 43.2,328.5 42.1,334.8" fill="none" stroke="#BCE0DC" stroke-width="1" stroke-linecap="round" stroke-linejoin="round" opacity="0.8"/>
<path d="M48,500 51.6,504.2 58.9,510.5 65.3,512.6 70.5,525.3 73.7,537.9 78.9,550.5 81,559" fill="none" stroke="#B4D8E6" stroke-width="1.2" stroke-linecap="round" stroke-linejoin="round"/>
<path d="M52,445 60,452 66,450" fill="none" stroke="#B4D8E6" stroke-width="0.8" stroke-linecap="round" opacity="0.7"/>
<path d="M50,462 58,468 62,476" fill="none" stroke="#B4D8E6" stroke-width="0.8" stroke-linecap="round" opacity="0.7"/>
<path d="M53,480 60,486" fill="none" stroke="#B4D8E6" stroke-width="0.8" stroke-linecap="round" opacity="0.7"/>
<path d="M47,452 55,458" fill="none" stroke="#B4D8E6" stroke-width="0.8" stroke-linecap="round" opacity="0.7"/>
<path d="M668.8,604 662.4,610.5 655,619.7 649.5,632.6 647.6,640 642,648 636,656 630,665" fill="none" stroke="#B5CDE6" stroke-width="0.9" stroke-linecap="round" stroke-linejoin="round" opacity="0.85"/>
<clipPath id="cq1"><path d="M702,503 712,500 724,503 726,512 716,519 706,517ZM631,366 640,372 652,384 660,392 662,402 655,400 645,392 636,382 632,374Z"/></clipPath>
<g clip-path="url(#cq1)"><rect x="0" y="0" width="880" height="760" filter="url(#nzD3)"/></g>
</g>
<rect x="21.5" y="20.5" width="839" height="721" fill="none" stroke="#000" stroke-width="1"/>
<rect x="85.25" y="15" width="2" height="6" fill="#000"/>
<text transform="translate(85.95,10.9) scale(0.94,1)" class="tk" text-anchor="middle">170<tspan dx="0.3">°</tspan><tspan dx="0.2">W</tspan></text>
<rect x="183.25" y="15" width="2" height="6" fill="#000"/>
<text transform="translate(183.95,10.9) scale(0.94,1)" class="tk" text-anchor="middle">160<tspan dx="0.3">°</tspan><tspan dx="0.2">W</tspan></text>
<rect x="240.75" y="15" width="2" height="6" fill="#000"/>
<text transform="translate(241.45,10.9) scale(0.94,1)" class="tk" text-anchor="middle">150<tspan dx="0.3">°</tspan><tspan dx="0.2">W</tspan></text>
<rect x="281" y="15" width="2" height="6" fill="#000"/>
<text transform="translate(281.7,10.9) scale(0.94,1)" class="tk" text-anchor="middle">140<tspan dx="0.3">°</tspan><tspan dx="0.2">W</tspan></text>
<rect x="310.75" y="15" width="2" height="6" fill="#000"/>
<rect x="335.25" y="15" width="2" height="6" fill="#000"/>
<text transform="translate(335.95,10.9) scale(0.94,1)" class="tk" text-anchor="middle">120<tspan dx="0.3">°</tspan><tspan dx="0.2">W</tspan></text>
<rect x="358.25" y="15" width="2" height="6" fill="#000"/>
<rect x="377.25" y="15" width="2" height="6" fill="#000"/>
<text transform="translate(377.95,10.9) scale(0.94,1)" class="tk" text-anchor="middle">100<tspan dx="0.3">°</tspan><tspan dx="0.2">W</tspan></text>
<rect x="397" y="15" width="2" height="6" fill="#000"/>
<rect x="418.25" y="15" width="2" height="6" fill="#000"/>
<text transform="translate(418.95,10.9) scale(0.94,1)" class="tk" text-anchor="middle">80<tspan dx="0.3">°</tspan><tspan dx="0.2">W</tspan></text>
<rect x="439" y="15" width="2" height="6" fill="#000"/>
<rect x="464" y="15" width="2" height="6" fill="#000"/>
<text transform="translate(464.7,10.9) scale(0.94,1)" class="tk" text-anchor="middle">60<tspan dx="0.3">°</tspan><tspan dx="0.2">W</tspan></text>
<rect x="494" y="15" width="2" height="6" fill="#000"/>
<text transform="translate(494.7,10.9) scale(0.94,1)" class="tk" text-anchor="middle">50<tspan dx="0.3">°</tspan><tspan dx="0.2">W</tspan></text>
<rect x="533.5" y="15" width="2" height="6" fill="#000"/>
<text transform="translate(534.2,10.9) scale(0.94,1)" class="tk" text-anchor="middle">40<tspan dx="0.3">°</tspan><tspan dx="0.2">W</tspan></text>
<rect x="592" y="15" width="2" height="6" fill="#000"/>
<text transform="translate(592.7,10.9) scale(0.94,1)" class="tk" text-anchor="middle">30<tspan dx="0.3">°</tspan><tspan dx="0.2">W</tspan></text>
<rect x="690.25" y="15" width="2" height="6" fill="#000"/>
<text transform="translate(690.95,10.9) scale(0.94,1)" class="tk" text-anchor="middle">20<tspan dx="0.3">°</tspan><tspan dx="0.2">W</tspan></text>
<rect x="37" y="742" width="2" height="5.5" fill="#000"/>
<text transform="translate(37.7,756.6) scale(0.94,1)" class="tk" text-anchor="middle">120<tspan dx="0.3">°</tspan><tspan dx="0.2">W</tspan></text>
<rect x="185.25" y="742" width="2" height="5.5" fill="#000"/>
<text transform="translate(185.95,756.6) scale(0.94,1)" class="tk" text-anchor="middle">110<tspan dx="0.3">°</tspan><tspan dx="0.2">W</tspan></text>
<rect x="320.75" y="742" width="2" height="5.5" fill="#000"/>
<text transform="translate(321.45,756.6) scale(0.94,1)" class="tk" text-anchor="middle">100<tspan dx="0.3">°</tspan><tspan dx="0.2">W</tspan></text>
<rect x="454" y="742" width="2" height="5.5" fill="#000"/>
<text transform="translate(454.7,756.6) scale(0.94,1)" class="tk" text-anchor="middle">90<tspan dx="0.3">°</tspan><tspan dx="0.2">W</tspan></text>
<rect x="590.75" y="742" width="2" height="5.5" fill="#000"/>
<text transform="translate(591.45,756.6) scale(0.94,1)" class="tk" text-anchor="middle">80<tspan dx="0.3">°</tspan><tspan dx="0.2">W</tspan></text>
<rect x="738.5" y="742" width="2" height="5.5" fill="#000"/>
<text transform="translate(739.2,756.6) scale(0.94,1)" class="tk" text-anchor="middle">70<tspan dx="0.3">°</tspan><tspan dx="0.2">W</tspan></text>
<rect x="16" y="286" width="5.5" height="2" fill="#000"/>
<text class="tk" text-anchor="middle" transform="translate(11.7,287.4) rotate(-90) scale(0.94,1)">60<tspan dx="0.3">°</tspan><tspan dx="0.2">N</tspan></text>
<rect x="16" y="499" width="5.5" height="2" fill="#000"/>
<text class="tk" text-anchor="middle" transform="translate(11.7,500.4) rotate(-90) scale(0.94,1)">50<tspan dx="0.3">°</tspan><tspan dx="0.2">N</tspan></text>
<rect x="16" y="698" width="5.5" height="2" fill="#000"/>
<text class="tk" text-anchor="middle" transform="translate(11.7,699.4) rotate(-90) scale(0.94,1)">40<tspan dx="0.3">°</tspan><tspan dx="0.2">N</tspan></text>
<rect x="861" y="151" width="5" height="2" fill="#000"/>
<text class="tk" text-anchor="middle" transform="translate(876,152.4) rotate(-90) scale(0.94,1)">60<tspan dx="0.3">°</tspan><tspan dx="0.2">N</tspan></text>
<rect x="861" y="422" width="5" height="2" fill="#000"/>
<text class="tk" text-anchor="middle" transform="translate(876,423.4) rotate(-90) scale(0.94,1)">50<tspan dx="0.3">°</tspan><tspan dx="0.2">N</tspan></text>
<rect x="861" y="641.8" width="5" height="2" fill="#000"/>
<text class="tk" text-anchor="middle" transform="translate(876,643.2) rotate(-90) scale(0.94,1)">40<tspan dx="0.3">°</tspan><tspan dx="0.2">N</tspan></text>
<!-- NRCan flag -->
<rect x="33" y="33" width="10.7" height="22" fill="#BC0000"/><rect x="65" y="33" width="11" height="22" fill="#BC0000"/>
<path d="M0,-9.2 L1.6,-6.2 3.3,-7 2.5,-2.6 4.7,-5 5.2,-3.8 7.4,-4.3 6.6,-1.4 7.6,-0.8 4.2,2.1 4.7,3.6 0.5,3 0.5,9 -0.5,9 -0.5,3 -4.7,3.6 -4.2,2.1 -7.6,-0.8 -6.6,-1.4 -7.4,-4.3 -5.2,-3.8 -4.7,-5 -2.5,-2.6 -3.3,-7 -1.6,-6.2Z" fill="#BC0000" transform="translate(54.5,44.3) scale(1.08,1)"/>
<text x="81.5" y="41" class="nr">Natural Resources</text><text x="81.5" y="55" class="nr">Canada</text>
<text x="186.5" y="41" class="nr">Ressources naturelles</text><text x="186.5" y="55" class="nr">Canada</text>
<!-- title -->
<text class="ti" transform="translate(540,58.8) scale(1.09,1)">Temperature</text>
<text class="ti" transform="translate(540,88.8) scale(1.09,1)">Température</text>
<text x="540.5" y="119.5" class="dt">2020-09-22</text>
<rect x="625.5" y="135.5" width="34" height="17" fill="#0000FF" stroke="#000" stroke-width="1"/>
<text transform="translate(675.5,149.7) scale(0.87,1)" class="lg">&lt; 0 <tspan font-size="16" dx="-1">°C</tspan></text>
<rect x="625.5" y="160.5" width="34" height="17" fill="#008000" stroke="#000" stroke-width="1"/>
<text transform="translate(675.5,174.7) scale(0.87,1)" class="lg">0 - 10</text>
<rect x="625.5" y="185.5" width="34" height="17" fill="#00E000" stroke="#000" stroke-width="1"/>
<text transform="translate(675.5,199.7) scale(0.87,1)" class="lg">10 - 20</text>
<rect x="625.5" y="210.5" width="34" height="17" fill="#FFFF00" stroke="#000" stroke-width="1"/>
<text transform="translate(675.5,224.7) scale(0.87,1)" class="lg">20 - 25</text>
<rect x="625.5" y="235.5" width="34" height="17" fill="#E0A000" stroke="#000" stroke-width="1"/>
<text transform="translate(675.5,249.7) scale(0.87,1)" class="lg">25 - 30</text>
<rect x="625.5" y="260.5" width="34" height="17" fill="#FF0000" stroke="#000" stroke-width="1"/>
<text transform="translate(675.5,274.7) scale(0.87,1)" class="lg">&gt; 30</text>
<!-- created -->
<text x="65.5" y="650" class="mc">Map created at 00:16 (UTC) on 2020-09-23</text>
<text x="65.5" y="665" class="mc">Carte créée le 2020-09-23 (UTC) à 00:16</text>
<!-- scale bar -->
<rect x="47.5" y="706.5" width="312" height="8" fill="#fff" stroke="#000" stroke-width="1"/>
<path d="M125.5,706.5v8M203.5,706.5v8M281.5,706.5v8M47.5,710.5h78M203.5,710.5h78" stroke="#000" stroke-width="1" fill="none"/>
<text x="47" y="728.5" class="sb" text-anchor="middle">0</text>
<text x="125" y="728.5" class="sb" text-anchor="middle">500</text>
<text x="203" y="728.5" class="sb" text-anchor="middle">1000</text>
<text x="281" y="728.5" class="sb" text-anchor="middle">1500</text>
<text x="347.3" y="728.5" class="sb">2000<tspan dx="3" letter-spacing="1.2">km</tspan></text>
<!-- wordmark -->
<text class="wm" font-size="60" transform="translate(689.3,731.7) scale(1.0,1)" style="font-size:60px">C</text><text class="wm" transform="translate(728.3,731.7) scale(0.927,1)" style="font-size:55.5px">anada</text>
<rect x="826.3" y="693" width="5" height="10.8" fill="#FF0000"/><rect x="841.9" y="693" width="5" height="10.8" fill="#FF0000"/>
<path d="M0,-9.2 L1.6,-6.2 3.3,-7 2.5,-2.6 4.7,-5 5.2,-3.8 7.4,-4.3 6.6,-1.4 7.6,-0.8 4.2,2.1 4.7,3.6 0.5,3 0.5,9 -0.5,9 -0.5,3 -4.7,3.6 -4.2,2.1 -7.6,-0.8 -6.6,-1.4 -7.4,-4.3 -5.2,-3.8 -4.7,-5 -2.5,-2.6 -3.3,-7 -1.6,-6.2Z" fill="#FF0000" transform="translate(836.6,698.4) scale(0.56)"/>
</svg>
</body></html>
